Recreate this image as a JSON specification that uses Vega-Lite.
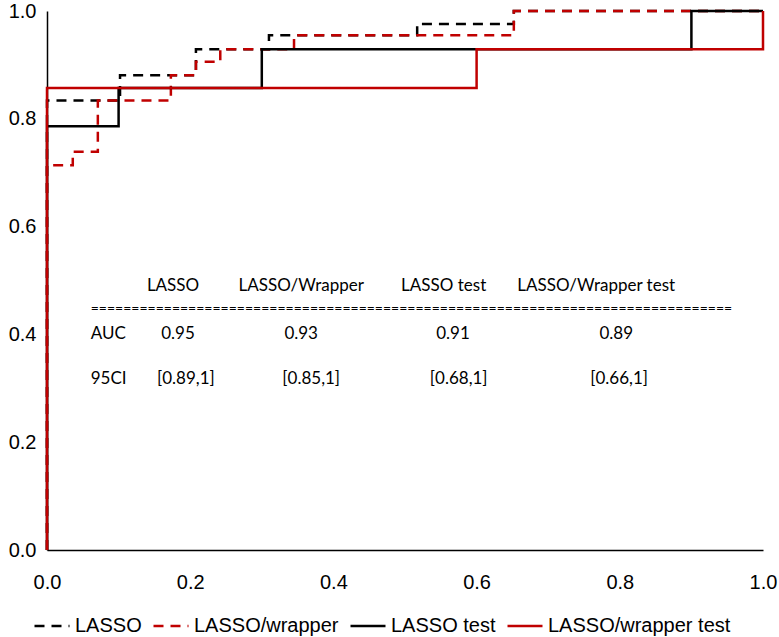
{
  "$schema": "https://vega.github.io/schema/vega-lite/v6.json",
  "width": 716,
  "height": 539,
  "autosize": {"type": "pad"},
  "padding": {"left": 8, "top": 1, "right": 3, "bottom": 0},
  "background": "white",
  "config": {
    "view": {"stroke": null},
    "axis": {
      "grid": false,
      "ticks": false,
      "domainColor": "#000000",
      "domainWidth": 1.5,
      "labelFont": "Liberation Sans",
      "labelFontSize": 20,
      "labelColor": "#000000",
      "title": null
    },
    "legend": {
      "labelFont": "Liberation Sans",
      "labelFontSize": 20,
      "labelColor": "#000000",
      "labelLimit": 400,
      "padding": 0
    }
  },
  "datasets": {
    "roc": [
      {"model": "LASSO", "i": 0, "fpr": 0, "tpr": 0},
      {"model": "LASSO", "i": 1, "fpr": 0, "tpr": 0.834},
      {"model": "LASSO", "i": 2, "fpr": 0.102, "tpr": 0.834},
      {"model": "LASSO", "i": 3, "fpr": 0.102, "tpr": 0.881},
      {"model": "LASSO", "i": 4, "fpr": 0.208, "tpr": 0.881},
      {"model": "LASSO", "i": 5, "fpr": 0.208, "tpr": 0.929},
      {"model": "LASSO", "i": 6, "fpr": 0.31, "tpr": 0.929},
      {"model": "LASSO", "i": 7, "fpr": 0.31, "tpr": 0.955},
      {"model": "LASSO", "i": 8, "fpr": 0.517, "tpr": 0.955},
      {"model": "LASSO", "i": 9, "fpr": 0.517, "tpr": 0.976},
      {"model": "LASSO", "i": 10, "fpr": 0.652, "tpr": 0.976},
      {"model": "LASSO", "i": 11, "fpr": 0.652, "tpr": 1},
      {"model": "LASSO", "i": 12, "fpr": 1, "tpr": 1},
      {"model": "LASSO/wrapper", "i": 0, "fpr": 0, "tpr": 0},
      {"model": "LASSO/wrapper", "i": 1, "fpr": 0, "tpr": 0.714},
      {"model": "LASSO/wrapper", "i": 2, "fpr": 0.036, "tpr": 0.714},
      {"model": "LASSO/wrapper", "i": 3, "fpr": 0.036, "tpr": 0.739},
      {"model": "LASSO/wrapper", "i": 4, "fpr": 0.071, "tpr": 0.739},
      {"model": "LASSO/wrapper", "i": 5, "fpr": 0.071, "tpr": 0.834},
      {"model": "LASSO/wrapper", "i": 6, "fpr": 0.173, "tpr": 0.834},
      {"model": "LASSO/wrapper", "i": 7, "fpr": 0.173, "tpr": 0.881},
      {"model": "LASSO/wrapper", "i": 8, "fpr": 0.208, "tpr": 0.881},
      {"model": "LASSO/wrapper", "i": 9, "fpr": 0.208, "tpr": 0.906},
      {"model": "LASSO/wrapper", "i": 10, "fpr": 0.242, "tpr": 0.906},
      {"model": "LASSO/wrapper", "i": 11, "fpr": 0.242, "tpr": 0.929},
      {"model": "LASSO/wrapper", "i": 12, "fpr": 0.345, "tpr": 0.929},
      {"model": "LASSO/wrapper", "i": 13, "fpr": 0.345, "tpr": 0.955},
      {"model": "LASSO/wrapper", "i": 14, "fpr": 0.652, "tpr": 0.955},
      {"model": "LASSO/wrapper", "i": 15, "fpr": 0.652, "tpr": 1},
      {"model": "LASSO/wrapper", "i": 16, "fpr": 1, "tpr": 1},
      {"model": "LASSO test", "i": 0, "fpr": 0, "tpr": 0},
      {"model": "LASSO test", "i": 1, "fpr": 0, "tpr": 0.786},
      {"model": "LASSO test", "i": 2, "fpr": 0.1, "tpr": 0.786},
      {"model": "LASSO test", "i": 3, "fpr": 0.1, "tpr": 0.857},
      {"model": "LASSO test", "i": 4, "fpr": 0.3, "tpr": 0.857},
      {"model": "LASSO test", "i": 5, "fpr": 0.3, "tpr": 0.929},
      {"model": "LASSO test", "i": 6, "fpr": 0.9, "tpr": 0.929},
      {"model": "LASSO test", "i": 7, "fpr": 0.9, "tpr": 1},
      {"model": "LASSO test", "i": 8, "fpr": 1, "tpr": 1},
      {"model": "LASSO/wrapper test", "i": 0, "fpr": 0, "tpr": 0},
      {"model": "LASSO/wrapper test", "i": 1, "fpr": 0, "tpr": 0.857},
      {"model": "LASSO/wrapper test", "i": 2, "fpr": 0.6, "tpr": 0.857},
      {"model": "LASSO/wrapper test", "i": 3, "fpr": 0.6, "tpr": 0.929},
      {"model": "LASSO/wrapper test", "i": 4, "fpr": 1, "tpr": 0.929},
      {"model": "LASSO/wrapper test", "i": 5, "fpr": 1, "tpr": 1}
    ],
    "tableCenter": [
      {"label": "LASSO", "tx": 0.176, "ty": 0.49},
      {"label": "LASSO/Wrapper", "tx": 0.355, "ty": 0.49},
      {"label": "LASSO test", "tx": 0.554, "ty": 0.49},
      {"label": "LASSO/Wrapper  test", "tx": 0.767, "ty": 0.49},
      {"label": "0.95", "tx": 0.183, "ty": 0.4},
      {"label": "0.93", "tx": 0.355, "ty": 0.4},
      {"label": "0.91", "tx": 0.567, "ty": 0.4},
      {"label": "0.89", "tx": 0.795, "ty": 0.4},
      {"label": "[0.89,1]", "tx": 0.194, "ty": 0.317},
      {"label": "[0.85,1]", "tx": 0.369, "ty": 0.317},
      {"label": "[0.68,1]", "tx": 0.575, "ty": 0.317},
      {"label": "[0.66,1]", "tx": 0.799, "ty": 0.317}
    ],
    "tableLeft": [
      {"label": "AUC", "tx": 0.061, "ty": 0.4},
      {"label": "95CI", "tx": 0.061, "ty": 0.317}
    ],
    "tableRule": [
      {"label": "===============================================================================", "tx": 0.061, "ty": 0.447}
    ]
  },
  "layer": [
    {
      "data": {"name": "roc"},
      "mark": {"type": "line", "strokeWidth": 2.5, "strokeCap": "butt", "strokeJoin": "miter"},
      "encoding": {
        "x": {
          "field": "fpr", "type": "quantitative",
          "scale": {"domain": [0, 1], "nice": false},
          "axis": {"values": [0, 0.2, 0.4, 0.6, 0.8, 1], "format": ".1f", "labelPadding": 22, "labelFlush": false}
        },
        "y": {
          "field": "tpr", "type": "quantitative",
          "scale": {"domain": [0, 1], "nice": false},
          "axis": {"values": [0, 0.2, 0.4, 0.6, 0.8, 1], "format": ".1f", "labelPadding": 11, "labelFlush": false}
        },
        "color": {
          "field": "model", "type": "nominal",
          "scale": {"domain": ["LASSO", "LASSO/wrapper", "LASSO test", "LASSO/wrapper test"], "range": ["#000000", "#c00000", "#000000", "#c00000"]},
          "legend": {
            "title": null, "orient": "none", "legendX": -14, "legendY": 596, "direction": "horizontal",
            "symbolType": "stroke", "symbolSize": 1225, "symbolStrokeWidth": 2.5,
            "labelOffset": 4, "columnPadding": 6
          }
        },
        "strokeDash": {
          "field": "model", "type": "nominal",
          "scale": {"domain": ["LASSO", "LASSO/wrapper", "LASSO test", "LASSO/wrapper test"], "range": [[10, 7], [10, 7], [1, 0], [1, 0]]},
          "legend": {
            "title": null, "orient": "none", "legendX": -14, "legendY": 596, "direction": "horizontal",
            "symbolType": "stroke", "symbolSize": 1225, "symbolStrokeWidth": 2.5,
            "labelOffset": 4, "columnPadding": 6
          }
        },
        "order": {"field": "i", "type": "quantitative"}
      }
    },
    {
      "data": {"name": "tableCenter"},
      "mark": {"type": "text", "font": "Lato", "fontSize": 17, "align": "center", "baseline": "middle", "color": "#000000"},
      "encoding": {
        "x": {"field": "tx", "type": "quantitative"},
        "y": {"field": "ty", "type": "quantitative"},
        "text": {"field": "label", "type": "nominal"}
      }
    },
    {
      "data": {"name": "tableLeft"},
      "mark": {"type": "text", "font": "Lato", "fontSize": 17, "align": "left", "baseline": "middle", "color": "#000000"},
      "encoding": {
        "x": {"field": "tx", "type": "quantitative"},
        "y": {"field": "ty", "type": "quantitative"},
        "text": {"field": "label", "type": "nominal"}
      }
    },
    {
      "data": {"name": "tableRule"},
      "mark": {"type": "text", "font": "Lato", "fontSize": 14, "align": "left", "baseline": "middle", "color": "#000000"},
      "encoding": {
        "x": {"field": "tx", "type": "quantitative"},
        "y": {"field": "ty", "type": "quantitative"},
        "text": {"field": "label", "type": "nominal"}
      }
    }
  ]
}
